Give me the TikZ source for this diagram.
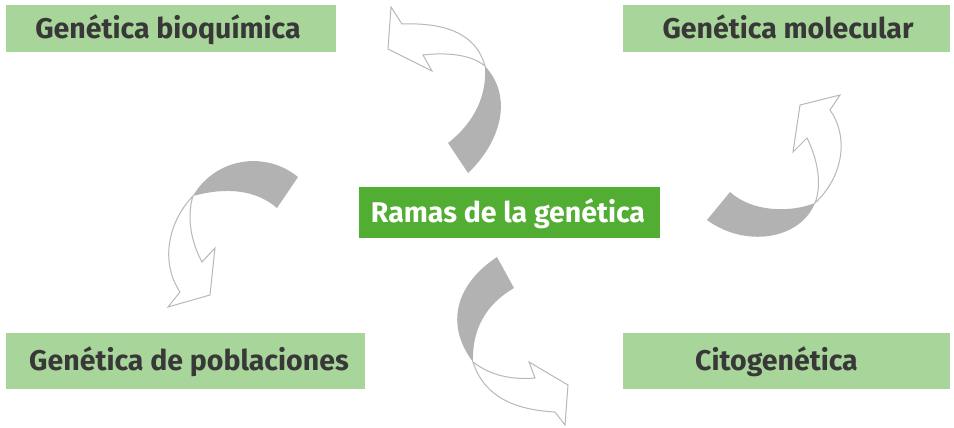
\documentclass[tikz,border=0pt]{standalone}
\usepackage{fontspec}
\setmainfont{Fira Sans}
\definecolor{boxlight}{HTML}{A8D59A}
\definecolor{boxdark}{HTML}{52AE32}
\definecolor{txtdark}{HTML}{383838}
\definecolor{bandgray}{HTML}{B2B2B2}
\definecolor{linegray}{HTML}{B8B8B8}
\tikzset{
  branch/.style={fill=boxlight, text=txtdark, inner sep=0pt, outer sep=0pt,
    font=\fontsize{28.5}{32}\selectfont\bfseries, text height=19.6pt, text depth=0pt},
  central/.style={fill=boxdark, text=white, inner sep=0pt, outer sep=0pt,
    font=\fontsize{28.5}{32}\selectfont\bfseries, text height=19.6pt, text depth=0pt},
  band/.style={fill=bandgray, draw=none},
  head/.style={fill=white, draw=linegray, line width=1pt, line join=miter}
}
\begin{document}
\begin{tikzpicture}[x=1pt,y=-1pt]
\useasboundingbox (0,0) rectangle (954,428);
% boxes
\node[branch, minimum width=330pt, minimum height=47pt] (bio) at (171,28.5) {Genética bioquímica\kern6pt};
\node[branch, minimum width=327pt, minimum height=47pt] (mol) at (786.5,28.5) {\kern3pt Genética molecular};
\node[central, minimum width=301pt, minimum height=51pt] (ramas) at (509.5,212.5) {Ramas de la genética\kern3pt};
\node[branch, minimum width=359pt, minimum height=56pt] (pob) at (185.5,361) {\kern7pt Genética de poblaciones};
\node[branch, minimum width=327pt, minimum height=56pt] (cito) at (786.5,361) {Citogenética\kern20pt};
% top arrow (towards Genetica bioquimica)
\fill[band] (485,66) .. controls (487,95) and (475,122) .. (448,143) -- (468,173)
  .. controls (497,146) and (516,100) .. (485,66) -- cycle;
\draw[head] (485,66) .. controls (478,40) and (455,22) .. (402,24) -- (391,7) -- (388,49)
  -- (432,71) -- (423,55) .. controls (448,52) and (472,55) .. (485,66) -- cycle;
% right arrow (towards Genetica molecular)
\fill[band] (815,203) .. controls (790,213) and (752,212) .. (730,192) -- (707,220)
  .. controls (745,248) and (800,240) .. (815,203) -- cycle;
\draw[head] (815,203) .. controls (822,185) and (818,160) .. (807,138) -- (793,152)
  -- (800,105) -- (840,95) -- (830,110) .. controls (848,135) and (845,175) .. (815,203) -- cycle;
% left arrow (towards Genetica de poblaciones)
\fill[band] (193,196) .. controls (215,190) and (250,185) .. (277,208) -- (298,177)
  .. controls (265,150) and (215,158) .. (193,196) -- cycle;
\draw[head] (193,196) .. controls (168,222) and (160,262) .. (180,292) -- (168,307)
  -- (210,295) -- (215,248) -- (202,262) .. controls (190,240) and (187,215) .. (193,196) -- cycle;
% bottom arrow (towards Citogenetica)
\fill[band] (473,362) .. controls (472,330) and (485,305) .. (514,288) -- (497,257)
  .. controls (455,285) and (445,325) .. (473,362) -- cycle;
\draw[head] (473,362) .. controls (490,375) and (510,380) .. (535,378) -- (529,362)
  -- (568,385) -- (565,425) -- (555,412) .. controls (520,410) and (485,400) .. (473,362) -- cycle;
\end{tikzpicture}
\end{document}
